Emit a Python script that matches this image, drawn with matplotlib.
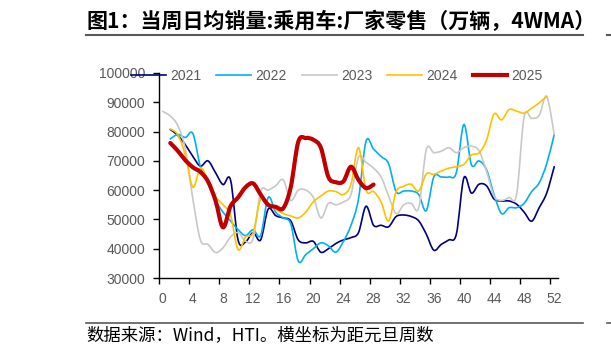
import numpy as np
import matplotlib
matplotlib.use("Agg")
import matplotlib.pyplot as plt
from matplotlib.path import Path
from matplotlib.patches import PathPatch
from matplotlib.lines import Line2D

plt.rcParams['font.family'] = ['Liberation Sans', 'Noto Sans CJK SC', 'DejaVu Sans']

# 横坐标：距元旦周数
weeks_2021 = list(range(1, 53))
weeks_2022 = list(range(1, 53))
weeks_2023 = list(range(0, 53))
weeks_2024 = list(range(1, 52))
weeks_2025 = list(range(1, 29))

sales_2021 = [80700, 78700, 75500, 71500, 68200, 70000, 66000, 61900, 63500, 43000,
              42300, 45500, 43000, 53500, 51300, 50500, 49500, 43000, 42000, 42500,
              38800, 40000, 41800, 43000, 43800, 45500, 54500, 48000, 48000, 47500,
              51000, 51500, 51000, 49500, 45000, 39500, 41500, 43000, 45000, 64200,
              59000, 62000, 61500, 57000, 56300, 56300, 55200, 52500, 49400, 54000,
              59000, 68000]
sales_2022 = [77500, 79000, 78000, 79300, 68000, 62500, 56500, 52500, 49500, 46500,
              44500, 46500, 44500, 57500, 52500, 50500, 48500, 35800, 38000, 40000,
              42000, 41000, 38800, 42500, 48000, 57000, 76700, 74000, 71500, 69000,
              59500, 59700, 59700, 58500, 53000, 64500, 64500, 64500, 66000, 82400,
              68700, 70000, 67000, 58500, 52000, 54000, 54000, 55500, 59500, 62500,
              69000, 79000]
sales_2023 = [86900, 85300, 82000, 74000, 57000, 43000, 41500, 38700, 40300, 44000,
              45500, 42600, 43500, 59500, 60000, 61500, 63500, 56500, 60000, 60000,
              57500, 50500, 55500, 55000, 56000, 58500, 71200, 69500, 67500, 64500,
              58000, 52000, 55000, 55500, 54000, 73800, 72800, 73300, 74500, 72800,
              74500, 75000, 73500, 66500, 58000, 56500, 57500, 58500, 85000, 84500,
              85500, 92000, 79000]
sales_2024 = [80900, 78900, 72000, 61000, 67500, 63500, 57800, 55000, 51500, 39700,
              44000, 45500, 57000, 55500, 53500, 52000, 51200, 50500, 52500, 56000,
              58000, 59700, 59500, 58500, 62000, 74500, 60000, 59500, 56000, 49500,
              59500, 61300, 62000, 59700, 65500, 65400, 66500, 67500, 68000, 68800,
              72000, 72700, 77000, 86000, 84000, 87500, 87000, 86300, 88000, 89800,
              92000]
sales_2025 = [76100, 73400, 70200, 67800, 66200, 63000, 56500, 47300, 54500, 57500,
              61000, 62300, 58500, 55000, 54300, 53800, 61000, 76500, 77800, 77200,
              74500, 64500, 62700, 63000, 68000, 63500, 60700, 61900]

series = [
    ('2021', weeks_2021, sales_2021, '#000080', 1.2),
    ('2022', weeks_2022, sales_2022, '#00B0F0', 1.2),
    ('2023', weeks_2023, sales_2023, '#C8C8C8', 1.2),
    ('2024', weeks_2024, sales_2024, '#FFC000', 1.2),
    ('2025', weeks_2025, sales_2025, '#C00000', 3.0),
]


def smooth_path(x, y):
    # excel 风格的平滑线（三次贝塞尔）
    pts = np.column_stack([x, y]).astype(float)
    n = len(pts)
    verts = [pts[0]]
    codes = [Path.MOVETO]
    for i in range(n - 1):
        p0 = pts[i - 1] if i > 0 else pts[i]
        p1 = pts[i]
        p2 = pts[i + 1]
        p3 = pts[i + 2] if i + 2 < n else pts[i + 1]
        verts += [p1 + (p2 - p0) / 6, p2 - (p3 - p1) / 6, p2]
        codes += [Path.CURVE4] * 3
    return Path(verts, codes)


fig = plt.figure(figsize=(6.11, 3.56), dpi=100)
ax = fig.add_axes([159 / 611, 1 - 278 / 356, 399 / 611, 205 / 356])

handles = []
for name, x, y, c, lw in series:
    ax.add_patch(PathPatch(smooth_path(x, y), facecolor='none', edgecolor=c,
                           lw=lw, capstyle='round', joinstyle='round'))
    handles.append(Line2D([], [], color=c, lw=lw, label=name))

ax.set_xlim(-0.5, 52.5)
ax.set_ylim(30000, 100000)
ax.set_yticks(range(30000, 100001, 10000))
ax.set_xticks(np.arange(-0.5, 52, 4))
ax.set_xticklabels([])
ax.set_xticks(range(0, 53, 4), minor=True)
ax.set_xticklabels([str(i) for i in range(0, 53, 4)], minor=True)
ax.tick_params(axis='x', which='minor', length=0, pad=10, labelsize=10, labelcolor='#595959')
ax.tick_params(axis='x', which='major', length=4, width=1)
ax.tick_params(axis='y', length=4, width=1, pad=6, labelsize=10, labelcolor='#595959')
for s in ['top', 'right']:
    ax.spines[s].set_visible(False)
for s in ['left', 'bottom']:
    ax.spines[s].set_linewidth(1)

fig.legend(handles=handles, loc='center', bbox_to_anchor=(337 / 611, 1 - 75.7 / 356),
           ncol=5, frameon=False, fontsize=10, handlelength=2.5, handletextpad=0.3,
           columnspacing=1.1, borderpad=0, labelcolor='#595959')

# 标题与脚注
cjk = ['Noto Sans CJK SC', 'DejaVu Sans']
fig.text(86 / 611, 1 - 21 / 356, '图1：当周日均销量:乘用车:厂家零售（万辆，4WMA）',
         ha='left', va='center', fontsize=15.1, fontweight='bold', family=cjk)
fig.add_artist(Line2D([86 / 611, 583 / 611], [1 - 34.5 / 356] * 2, color='#595959', lw=1.5))
fig.add_artist(Line2D([86 / 611, 583 / 611], [1 - 323 / 356] * 2, color='#595959', lw=1.2))
fig.text(86 / 611, 1 - 335 / 356, '数据来源：Wind，HTI。横坐标为距元旦周数',
         ha='left', va='center', fontsize=12.5, family=cjk)

# 右侧相邻图表的边缘（只留分隔线）
fig.add_artist(Line2D([607 / 611, 1], [1 - 34.5 / 356] * 2, color='#595959', lw=1.5))
fig.add_artist(Line2D([607 / 611, 1], [1 - 323 / 356] * 2, color='#595959', lw=1.2))

fig.savefig('out.png', dpi=100)
